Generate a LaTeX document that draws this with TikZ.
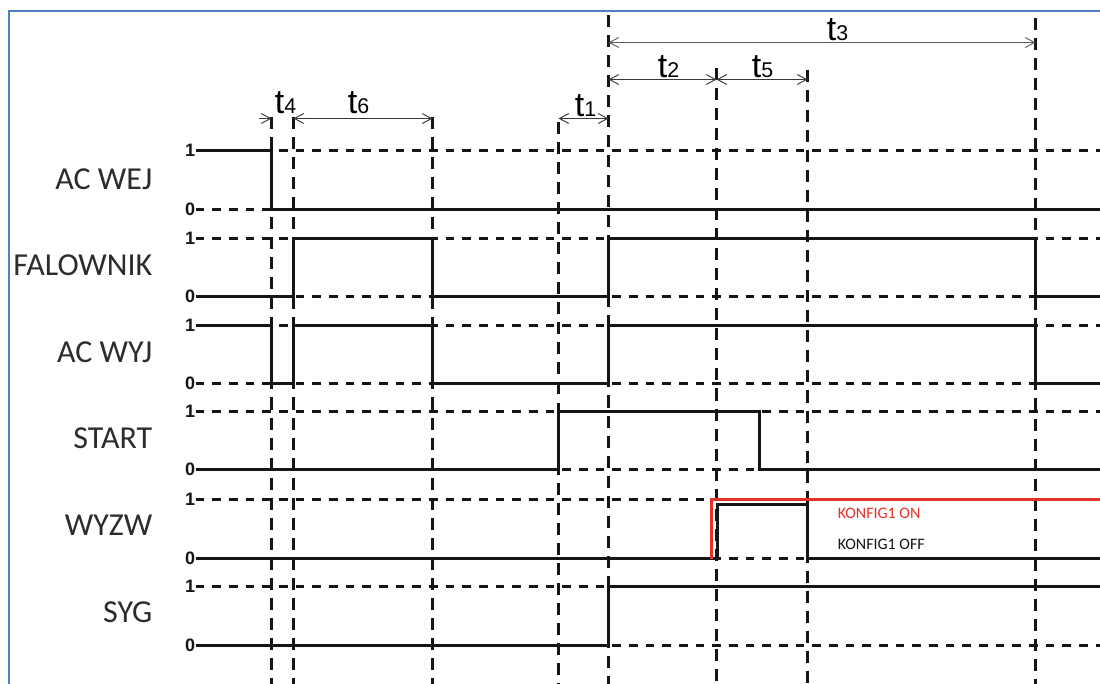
\documentclass[tikz,border=0pt]{standalone}
\usepackage{fontspec}
\setmainfont{Liberation Sans}
\newfontfamily\lblfont{Carlito}
\usetikzlibrary{arrows.meta}
\definecolor{frameblue}{HTML}{4F81BD}
\definecolor{sigred}{HTML}{E53127}
\definecolor{ink}{HTML}{151515}
\definecolor{dimgray}{HTML}{5E5E5E}
\newcommand{\tsub}[1]{{\fontsize{16}{18}\selectfont #1}}
\begin{document}
\begin{tikzpicture}[x=0.75pt,y=-0.75pt,
  sig/.style={line width=2.25pt, draw=ink, line join=miter},
  redsig/.style={line width=2.25pt, draw=sigred, line join=miter},
  hgrid/.style={line width=2.25pt, draw=ink, dash pattern=on 6.5pt off 6pt},
  vgrid/.style={line width=2.25pt, draw=ink, dash pattern=on 9pt off 6pt},
  barb/.tip={Straight Barb[length=7pt,width=7.5pt,line width=0.7pt]},
  dimline/.style={line width=0.9pt, draw=ink!85, barb-barb},
  dimlinegray/.style={line width=1.2pt, draw=dimgray, barb-barb},
  tlab/.style={font=\fontsize{25.5}{28}\selectfont, inner sep=0pt, anchor=base},
  siglab/.style={font=\lblfont\fontsize{24}{28}\selectfont, anchor=base east, inner sep=0pt, text=ink!90},
  lvl/.style={font=\bfseries\fontsize{13.5}{15}\selectfont, anchor=east, inner sep=0pt, text=ink},
  konf/.style={font=\lblfont\fontsize{12}{14}\selectfont, anchor=west, inner sep=0pt}
]
\useasboundingbox (0,0) rectangle (1100,684);
\fill[white] (0,0) rectangle (1100,684);
\begin{scope}[shift={(0.5,0.5)}]
\draw[frameblue, line width=1.5pt] (8,684) -- (8,11) -- (1100,11);

% level labels and dashed level lines
\foreach \y/\v [count=\i] in {150/1,209/0,238/1,296/0,325/1,383/0,411/1,469/0,499/1,558/0,586/1,645/0}{
  \node[lvl] (lv\i) at (195,\y) {\v};
  \draw[hgrid] (lv\i.east) -- (1100,\y);
}

% signal names
\node[siglab] (acwej) at (152,189) {AC WEJ};
\node[siglab] (falow) at (152,275) {FALOWNIK};
\node[siglab] (acwyj) at (152,362) {AC WYJ};
\node[siglab] (start) at (152,448) {START};
\node[siglab] (wyzw) at (152,535) {WYZW};
\node[siglab] (syg) at (152,622) {SYG};

% vertical dashed time markers
\foreach \x/\top [count=\i] in {271/117,293/117,432/117,558/122,608/15,716/68,807/70,1035/18}{
  \coordinate (m\i) at (\x,\top);
  \draw[vgrid] (m\i) -- (\x,684);
}

% signals
\draw[sig] (lv1.east) -| (271,209) -- (1100,209);
\draw[sig] (lv4.east) -| (293,238) -| (432,296) -| (608,238) -| (1035,296) -- (1100,296);
\draw[sig] (lv5.east) -| (271,383) -| (293,325) -| (432,383) -| (608,325) -| (1035,383) -- (1100,383);
\draw[sig] (lv8.east) -| (558,411) -| (759,469) -- (1100,469);
\draw[sig] (lv10.east) -| (717,504) -| (807,558) -- (1100,558);
\draw[redsig] (711,558) -- (711,499) -- (1100,499);
\draw[sig] (lv12.east) -| (608,586) -- (1100,586);

% dimension arrows
\coordinate (a3l) at (608,42);  \coordinate (a3r) at (1035,42);
\coordinate (a2l) at (608,79);  \coordinate (a2r) at (716,79);
\coordinate (a5r) at (807,79);
\coordinate (a4s) at (258,118); \coordinate (a4e) at (271,118);
\coordinate (a6l) at (293,118); \coordinate (a6r) at (432,118);
\coordinate (a1l) at (558,118); \coordinate (a1r) at (608,118);
\draw[dimlinegray] (a3l) -- (a3r);
\draw[dimline] (a2l) -- (a2r);
\draw[dimline] (a2r) -- (a5r);
\draw[line width=0.9pt, draw=ink!85, -barb] (a4s) -- (a4e);
\draw[dimline] (a6l) -- (a6r);
\draw[dimline] (a1l) -- (a1r);

% time labels
\node[tlab] (t3) at (837,40) {t\tsub{3}};
\node[tlab] (t2) at (668,77) {t\tsub{2}};
\node[tlab] (t5) at (762,77) {t\tsub{5}};
\node[tlab] (t4) at (285,113) {t\tsub{4}};
\node[tlab] (t6) at (358,113) {t\tsub{6}};
\node[tlab] (t1) at (585,116) {t\tsub{1}};

% KONFIG labels
\node[konf, text=sigred] (kon) at (837,513) {KONFIG1 ON};
\node[konf, text=ink] (koff) at (837,544) {KONFIG1 OFF};
\end{scope}
\end{tikzpicture}
\end{document}
